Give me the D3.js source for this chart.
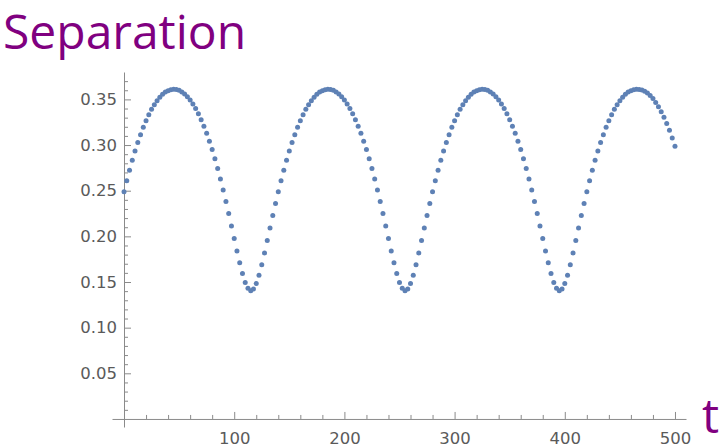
<!DOCTYPE html>
<html>
<head>
<meta charset="utf-8">
<script src="https://cdn.jsdelivr.net/npm/d3@7"></script>
<style>
  html, body { margin: 0; padding: 0; background: #fff; }
  svg { display: block; }
</style>
</head>
<body>
<svg id="chart" width="720" height="448"></svg>
<script>
// ---- data ----
const title = "Separation";
const xLabel = "t";

const tValues = [
  0,2.5,5,7.5,10,12.5,15,17.5,20,22.5,25,27.5,30,32.5,35,37.5,40,42.5,45,47.5,
  50,52.5,55,57.5,60,62.5,65,67.5,70,72.5,75,77.5,80,82.5,85,87.5,90,92.5,95,97.5,
  100,102.5,105,107.5,110,112.5,115,117.5,120,122.5,125,127.5,130,132.5,135,137.5,140,142.5,145,147.5,
  150,152.5,155,157.5,160,162.5,165,167.5,170,172.5,175,177.5,180,182.5,185,187.5,190,192.5,195,197.5,
  200,202.5,205,207.5,210,212.5,215,217.5,220,222.5,225,227.5,230,232.5,235,237.5,240,242.5,245,247.5,
  250,252.5,255,257.5,260,262.5,265,267.5,270,272.5,275,277.5,280,282.5,285,287.5,290,292.5,295,297.5,
  300,302.5,305,307.5,310,312.5,315,317.5,320,322.5,325,327.5,330,332.5,335,337.5,340,342.5,345,347.5,
  350,352.5,355,357.5,360,362.5,365,367.5,370,372.5,375,377.5,380,382.5,385,387.5,390,392.5,395,397.5,
  400,402.5,405,407.5,410,412.5,415,417.5,420,422.5,425,427.5,430,432.5,435,437.5,440,442.5,445,447.5,
  450,452.5,455,457.5,460,462.5,465,467.5,470,472.5,475,477.5,480,482.5,485,487.5,490,492.5,495,497.5,
  500
];

const separation = [
  // t = 0 .. 137.5
  0.2488,0.2609,0.2724,0.2833,0.2934,0.3028,0.3114,0.3194,0.3266,0.3332,
  0.3391,0.3442,0.3486,0.3524,0.3555,0.3580,0.3596,0.3606,0.3611,0.3608,
  0.3599,0.3582,0.3559,0.3529,0.3493,0.3450,0.3399,0.3342,0.3277,0.3206,
  0.3128,0.3042,0.2950,0.2850,0.2742,0.2628,0.2508,0.2381,0.2249,0.2114,
  0.1976,0.1840,0.1710,0.1592,0.1495,0.1431,0.1405,0.1424,0.1483,0.1575,
  0.1690,0.1818,0.1954,0.2092,0.2228,0.2360,
  // t = 140 .. 277.5
  0.2488,0.2609,0.2724,0.2833,0.2934,0.3028,0.3114,0.3194,0.3266,0.3332,
  0.3391,0.3442,0.3486,0.3524,0.3555,0.3580,0.3596,0.3606,0.3611,0.3608,
  0.3599,0.3582,0.3559,0.3529,0.3493,0.3450,0.3399,0.3342,0.3277,0.3206,
  0.3128,0.3042,0.2950,0.2850,0.2742,0.2628,0.2508,0.2381,0.2249,0.2114,
  0.1976,0.1840,0.1710,0.1592,0.1495,0.1431,0.1405,0.1424,0.1483,0.1575,
  0.1690,0.1818,0.1954,0.2092,0.2228,0.2360,
  // t = 280 .. 417.5
  0.2488,0.2609,0.2724,0.2833,0.2934,0.3028,0.3114,0.3194,0.3266,0.3332,
  0.3391,0.3442,0.3486,0.3524,0.3555,0.3580,0.3596,0.3606,0.3611,0.3608,
  0.3599,0.3582,0.3559,0.3529,0.3493,0.3450,0.3399,0.3342,0.3277,0.3206,
  0.3128,0.3042,0.2950,0.2850,0.2742,0.2628,0.2508,0.2381,0.2249,0.2114,
  0.1976,0.1840,0.1710,0.1592,0.1495,0.1431,0.1405,0.1424,0.1483,0.1575,
  0.1690,0.1818,0.1954,0.2092,0.2228,0.2360,
  // t = 420 .. 500
  0.2488,0.2609,0.2724,0.2833,0.2934,0.3028,0.3114,0.3194,0.3266,0.3332,
  0.3391,0.3442,0.3486,0.3524,0.3555,0.3580,0.3596,0.3606,0.3611,0.3608,
  0.3603,0.3589,0.3569,0.3542,0.3509,0.3467,0.3420,0.3365,0.3304,0.3236,
  0.3161,0.3078,0.2987
];

const xMajorTicks = [100, 200, 300, 400, 500];
const yMajorTicks = [0.05, 0.10, 0.15, 0.20, 0.25, 0.30, 0.35];

// ---- drawing ----
const svg = d3.select("#chart");
const x = d3.scaleLinear().domain([-10.9, 510]).range([112, 686]);
const y = d3.scaleLinear().domain([-0.0088, 0.380]).range([427, 72]);

const axisColor = "#8a8a8a";
const labelColor = "#5a5a5a";
const points = tValues.map((t, i) => ({ t, v: separation[i] }));

// minor ticks
const xMinor = d3.range(20, 510, 20).filter(v => v % 100 !== 0);
const yMinor = d3.range(1, 39).map(v => v / 100).filter(v => Math.round(v * 100) % 5 !== 0 && v <= 0.379);

const gxMinor = svg.append("g").attr("transform", `translate(0,${y(0)})`)
  .call(d3.axisBottom(x).tickValues(xMinor).tickSizeInner(-4).tickSizeOuter(0).tickFormat(""));
gxMinor.select(".domain").remove();

const gyMinor = svg.append("g").attr("transform", `translate(${x(0)},0)`)
  .call(d3.axisLeft(y).tickValues(yMinor).tickSizeInner(-4).tickSizeOuter(0).tickFormat(""));
gyMinor.select(".domain").remove();

const gx = svg.append("g").attr("transform", `translate(0,${y(0)})`)
  .call(d3.axisBottom(x).tickValues(xMajorTicks).tickSizeInner(-7).tickSizeOuter(0).tickPadding(13).tickFormat(d3.format("d")));

const gy = svg.append("g").attr("transform", `translate(${x(0)},0)`)
  .call(d3.axisLeft(y).tickValues(yMajorTicks).tickSizeInner(-7).tickSizeOuter(0).tickPadding(7).tickFormat(d3.format(".2f")));

[gx, gy, gxMinor, gyMinor].forEach(g => {
  g.selectAll("line").attr("stroke", axisColor).attr("stroke-width", 1);
  g.selectAll(".domain").attr("stroke", axisColor).attr("stroke-width", 1);
  g.selectAll("text").attr("fill", labelColor)
    .style("font-family", "'DejaVu Sans', sans-serif").style("font-size", "16.5px");
});

// points
svg.append("g").selectAll("circle").data(points).join("circle")
  .attr("cx", d => x(d.t))
  .attr("cy", d => y(d.v))
  .attr("r", 2.5)
  .attr("fill", "#5E81B5");

// title
svg.append("text").attr("x", 3).attr("y", 49)
  .text(title)
  .attr("fill", "#800080")
  .style("font-family", "'Open Sans', sans-serif")
  .style("font-size", "48px");

// axis label
svg.append("text").attr("x", 702).attr("y", 433)
  .text(xLabel)
  .attr("fill", "#800080")
  .style("font-family", "'Open Sans', sans-serif")
  .style("font-size", "48px");
</script>
</body>
</html>
